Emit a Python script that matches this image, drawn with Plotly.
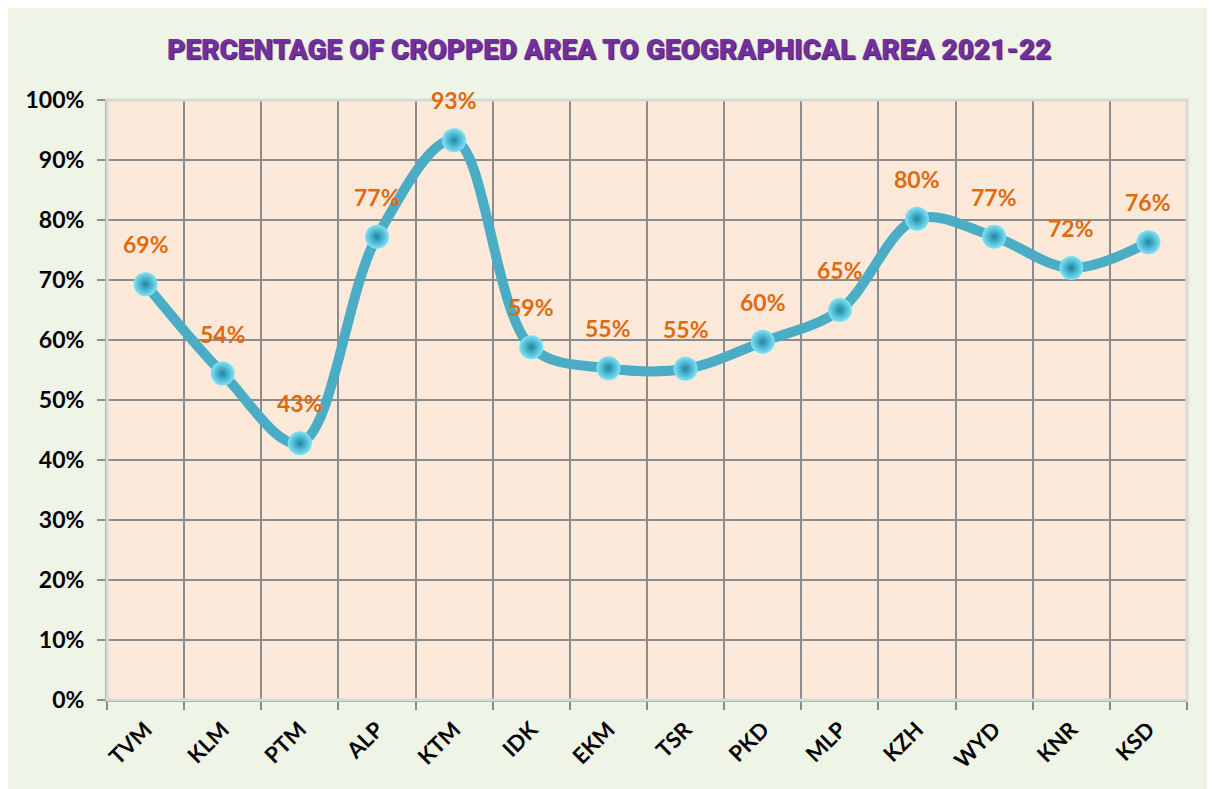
import plotly.graph_objects as go

districts = ["TVM", "KLM", "PTM", "ALP", "KTM", "IDK", "EKM", "TSR", "PKD", "MLP", "KZH", "WYD", "KNR", "KSD"]
crop_share = [0.693, 0.544, 0.428, 0.772, 0.933, 0.588, 0.553, 0.552, 0.597, 0.650, 0.802, 0.772, 0.720, 0.763]
y_ticks = [0, 0.1, 0.2, 0.3, 0.4, 0.5, 0.6, 0.7, 0.8, 0.9, 1.0]
y_tick_labels = ["0%", "10%", "20%", "30%", "40%", "50%", "60%", "70%", "80%", "90%", "100%"]
title_text = "PERCENTAGE OF CROPPED AREA TO GEOGRAPHICAL AREA 2021-22"

LINE = "#4BACC6"
ORANGE = "#E06A0C"
GRID = "#8C8C8C"
TICKFONT = dict(family="Lato, Carlito, Calibri, sans-serif", color="#000000", weight="bold")

fig = go.Figure()
fig.add_trace(go.Scatter(
    x=districts, y=crop_share, mode="lines+markers",
    line=dict(color=LINE, width=10, shape="spline", smoothing=1.0),
    marker=dict(size=24, color="#7FE4F7",
                gradient=dict(type="radial", color="#1C86A6"),
                line=dict(width=0)),
    hoverinfo="x+y", showlegend=False,
))

def mix(c1, c2, t):
    return "rgb(%d,%d,%d)" % tuple(round(a + (b - a) * t) for a, b in zip(c1, c2))

top = (246, 250, 241)
mid = (224, 237, 211)
bot = (244, 249, 240)
n = 40
shapes = []
for i in range(n):
    t = i / (n - 1)
    if t < 0.85:
        c = mix(top, mid, t / 0.85)
    else:
        c = mix(mid, bot, (t - 0.85) / 0.15)
    shapes.append(dict(type="rect", xref="paper", yref="paper", layer="below",
                       x0=0, x1=1, y0=1 - (i + 1) / n, y1=1 - i / n + 0.001,
                       fillcolor=c, line=dict(width=0)))
shapes.append(dict(type="rect", xref="x domain", yref="y domain", layer="below",
                   x0=0, x1=1, y0=0, y1=1, fillcolor="#FDE9DA", line=dict(width=0)))
shapes.append(dict(type="rect", xref="paper", yref="paper", layer="above",
                   x0=0, x1=1, y0=0, y1=1, fillcolor="rgba(0,0,0,0)",
                   line=dict(color="#D6DBD2", width=3)))

annotations = []
for d, v in zip(districts, crop_share):
    annotations.append(dict(x=d, y=v, xref="x", yref="y", text=f"{round(v * 100)}%",
                            showarrow=False, yshift=40,
                            font=dict(family="Lato, Carlito, sans-serif", size=23,
                                      color=ORANGE, weight="bold")))

# page body has an 8px margin: shrink figure so the plot lands at the reference pixels
fig.update_layout(
    width=1207, height=781,
    margin=dict(l=99, r=28, t=92, b=89),
    paper_bgcolor="#EEF4E6",
    plot_bgcolor="#FDE9DA",
    shapes=shapes,
    annotations=annotations,
    title=dict(text=title_text, x=0.498, xanchor="center", y=0.947, yanchor="middle",
               font=dict(family="Roboto, sans-serif", size=28, color="#7030A0", weight=900,
                         shadow="1px 1px 1px #3A1060")),
    xaxis=dict(type="category", tickson="boundaries", showgrid=True, gridcolor=GRID, gridwidth=2,
               ticks="outside", ticklen=8, tickwidth=2, tickcolor=GRID,
               showline=True, linecolor=GRID, linewidth=2, ticklabelstandoff=6,
               tickangle=-45, tickfont=dict(**TICKFONT, size=22),
               range=[-0.5, len(districts) - 0.5], fixedrange=True),
    yaxis=dict(range=[0, 1.0], tickvals=y_ticks, ticktext=y_tick_labels,
               showgrid=True, gridcolor=GRID, gridwidth=2,
               ticks="outside", ticklen=8, tickwidth=2, tickcolor=GRID,
               showline=True, linecolor=GRID, linewidth=2, ticklabelstandoff=8,
               tickfont=dict(**TICKFONT, size=23), zeroline=False, fixedrange=True),
)

fig.write_html("out.html")
